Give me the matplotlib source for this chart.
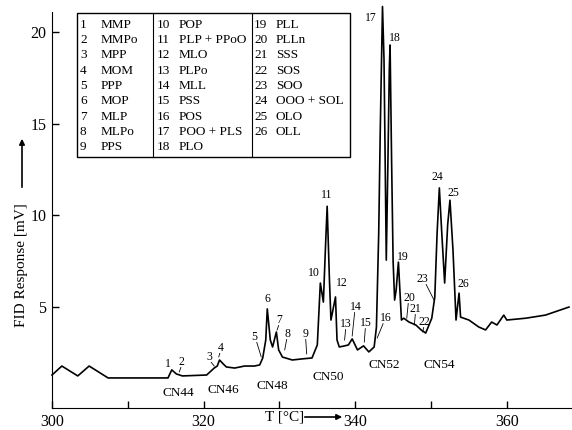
import matplotlib.pyplot as plt
from matplotlib.patches import Rectangle

# chromatogram trace: oven temperature [°C] vs FID response [mV]
temperature = [300.0, 301.3, 303.4, 304.9, 307.4, 311.6, 315.3, 315.8, 316.4, 317.2,
               320.4, 321.4, 321.8, 322.1, 322.6, 323.0, 324.1, 325.4, 326.7, 327.4,
               327.8, 328.2, 328.4, 328.8, 329.1, 329.6, 329.9, 330.4, 331.7, 333.0,
               334.3, 335.0, 335.4, 335.8, 336.1, 336.3, 336.6, 336.8, 337.4, 337.6, 337.9,
               338.6, 339.1, 339.6, 340.3, 341.1, 341.8, 342.5, 342.8, 343.1, 343.3,
               343.6, 343.8, 344.1, 344.3, 344.5, 344.6, 344.8, 345.0, 345.2, 345.4,
               345.7, 346.1, 346.4, 347.1, 348.0, 348.7, 349.3, 350.1, 350.5, 350.8, 351.1,
               351.4, 351.8, 352.2, 352.5, 352.9, 353.3, 353.7, 353.9, 355.0, 356.3, 357.2,
               358.0, 358.7, 359.6, 360.0, 362.5, 365.1, 368.2]
response = [1.29, 1.78, 1.24, 1.78, 1.13, 1.13, 1.13, 1.57, 1.35, 1.24,
            1.29, 1.67, 1.78, 2.11, 1.89, 1.73, 1.67, 1.78, 1.78, 1.84,
            2.22, 3.2, 4.9, 3.2, 2.82, 3.64, 2.66, 2.27, 2.11, 2.17,
            2.22, 2.93, 6.31, 5.27, 8.5, 10.5, 6.5, 4.29, 5.55, 3.2, 2.82,
            2.88, 2.93, 3.26, 2.66, 2.88, 2.55, 2.82, 3.9, 9.0, 14.5,
            21.4, 18.5, 7.56, 12.5, 18.0, 19.3, 13.0, 7.5, 5.38, 5.93,
            7.45, 4.29, 4.39, 4.18, 4.02, 3.75, 3.58, 4.39, 5.55, 9.0, 11.5,
            9.19, 6.31, 9.5, 10.83, 8.1, 4.29, 5.76, 4.45, 4.29, 3.91, 3.75,
            4.18, 4.02, 4.56, 4.29, 4.39, 4.56, 5.0]

# peak identification table
peak_ids = [str(i) for i in range(1, 27)]
peak_names = ['MMP', 'MMPo', 'MPP', 'MOM', 'PPP', 'MOP', 'MLP', 'MLPo', 'PPS',
              'POP', 'PLP + PPoO', 'MLO', 'PLPo', 'MLL', 'PSS', 'POS', 'POO + PLS', 'PLO',
              'PLL', 'PLLn', 'SSS', 'SOS', 'SOO', 'OOO + SOL', 'OLO', 'OLL']

cn_groups = ['CN44', 'CN46', 'CN48', 'CN50', 'CN52', 'CN54']

plt.rcParams['font.family'] = ['Liberation Serif', 'DejaVu Serif']

W, H = 572, 430
fig = plt.figure(figsize=(W / 100, H / 100), dpi=100)
ax = fig.add_axes([52 / W, (H - 408) / H, 1 - 52 / W, (408 - 12) / H])

ax.plot(temperature, response, color='black', lw=1.2, clip_on=False)
ax.set_xlim(300, 368.6)
ax.set_ylim(-0.51, 21.1)

for s in ['top', 'right']:
    ax.spines[s].set_visible(False)
ax.set_xticks(range(300, 361, 10))
ax.set_xticklabels(['300', '', '320', '', '340', '', '360'])
ax.set_yticks([5, 10, 15, 20])
ax.tick_params(direction='in', length=5, width=1, labelsize=11.5, pad=4)

# peak numbers: (label, text x, text y, leader tip x, tip y) in data units
peak_marks = [
    ('1', 315.3, 1.89, None, None), ('2', 317.1, 2.0, 316.8, 1.46),
    ('3', 320.8, 2.28, 321.4, 1.78), ('4', 322.2, 2.77, 322.0, 2.28),
    ('5', 326.7, 3.37, 327.6, 2.28), ('6', 328.4, 5.42, None, None),
    ('7', 330.0, 4.29, 329.7, 3.75), ('8', 331.1, 3.53, 330.7, 2.66),
    ('9', 333.4, 3.53, 333.6, 2.44), ('10', 334.6, 6.85, None, None),
    ('11', 336.2, 11.1, None, None), ('12', 338.2, 6.31, None, None),
    ('13', 338.8, 4.07, 338.6, 3.2), ('14', 340.1, 5.0, 339.6, 3.42),
    ('15', 341.4, 4.12, 341.2, 3.09), ('16', 344.1, 4.39, 342.9, 3.31),
    ('17', 342.1, 20.77, None, None), ('18', 345.3, 19.68, None, None),
    ('19', 346.3, 7.73, None, None), ('20', 347.1, 5.49, 346.8, 4.39),
    ('21', 348.0, 4.89, 347.8, 4.02), ('22', 349.1, 4.18, 348.9, 3.64),
    ('23', 348.8, 6.53, 350.4, 5.38), ('24', 350.9, 12.09, None, None),
    ('25', 353.0, 11.22, None, None), ('26', 354.3, 6.25, None, None),
]
for lab, tx, ty, px, py in peak_marks:
    ax.text(tx, ty, lab, fontsize=8.5, ha='center', va='center')
    if px is not None:
        ax.plot([tx + (px - tx) * 0.35, px], [ty - 0.3 if ty > py else ty, py],
                color='black', lw=0.6)

cn_pos = [(316.6, 0.31), (322.6, 0.47), (329.1, 0.69), (336.4, 1.18), (343.8, 1.84), (351.1, 1.84)]
for lab, (cx, cy) in zip(cn_groups, cn_pos):
    ax.text(cx, cy, lab, fontsize=9.5, ha='center', va='center')

# axis labels with long arrows
fig.text(265 / W, 1 - 417 / H, 'T [°C]', fontsize=11, ha='left', va='center')
ax.annotate('', xy=(345 / W, 1 - 417 / H), xytext=(302 / W, 1 - 417 / H),
            xycoords='figure fraction',
            arrowprops=dict(arrowstyle='-|>', color='black', lw=1.2, mutation_scale=8))
fig.text(22 / W, 1 - 265 / H, 'FID Response [mV]', fontsize=11, rotation=90,
         ha='center', va='center')
ax.annotate('', xy=(22 / W, 1 - 136 / H), xytext=(22 / W, 1 - 190 / H),
            xycoords='figure fraction',
            arrowprops=dict(arrowstyle='-|>', color='black', lw=1.2, mutation_scale=8))

# peak table box
fig.add_artist(Rectangle((77 / W, 1 - 157 / H), (350 - 77) / W, (157 - 13) / H,
                         transform=fig.transFigure, fill=False, lw=1.0, color='black'))
for xd in [153, 252]:
    fig.add_artist(plt.Line2D([xd / W, xd / W], [1 - 157 / H, 1 - 13 / H],
                              transform=fig.transFigure, color='black', lw=0.8))
col_x = [(80, 101), (157, 179), (254, 276)]
for i, (pid, name) in enumerate(zip(peak_ids, peak_names)):
    col, row = divmod(i, 9)
    nx, tx = col_x[col]
    y = 1 - (25 + 15.25 * row) / H
    fig.text(nx / W, y, pid, fontsize=9.5, ha='left', va='center')
    fig.text(tx / W, y, name, fontsize=9.5, ha='left', va='center')

fig.savefig('out.png', dpi=100)
